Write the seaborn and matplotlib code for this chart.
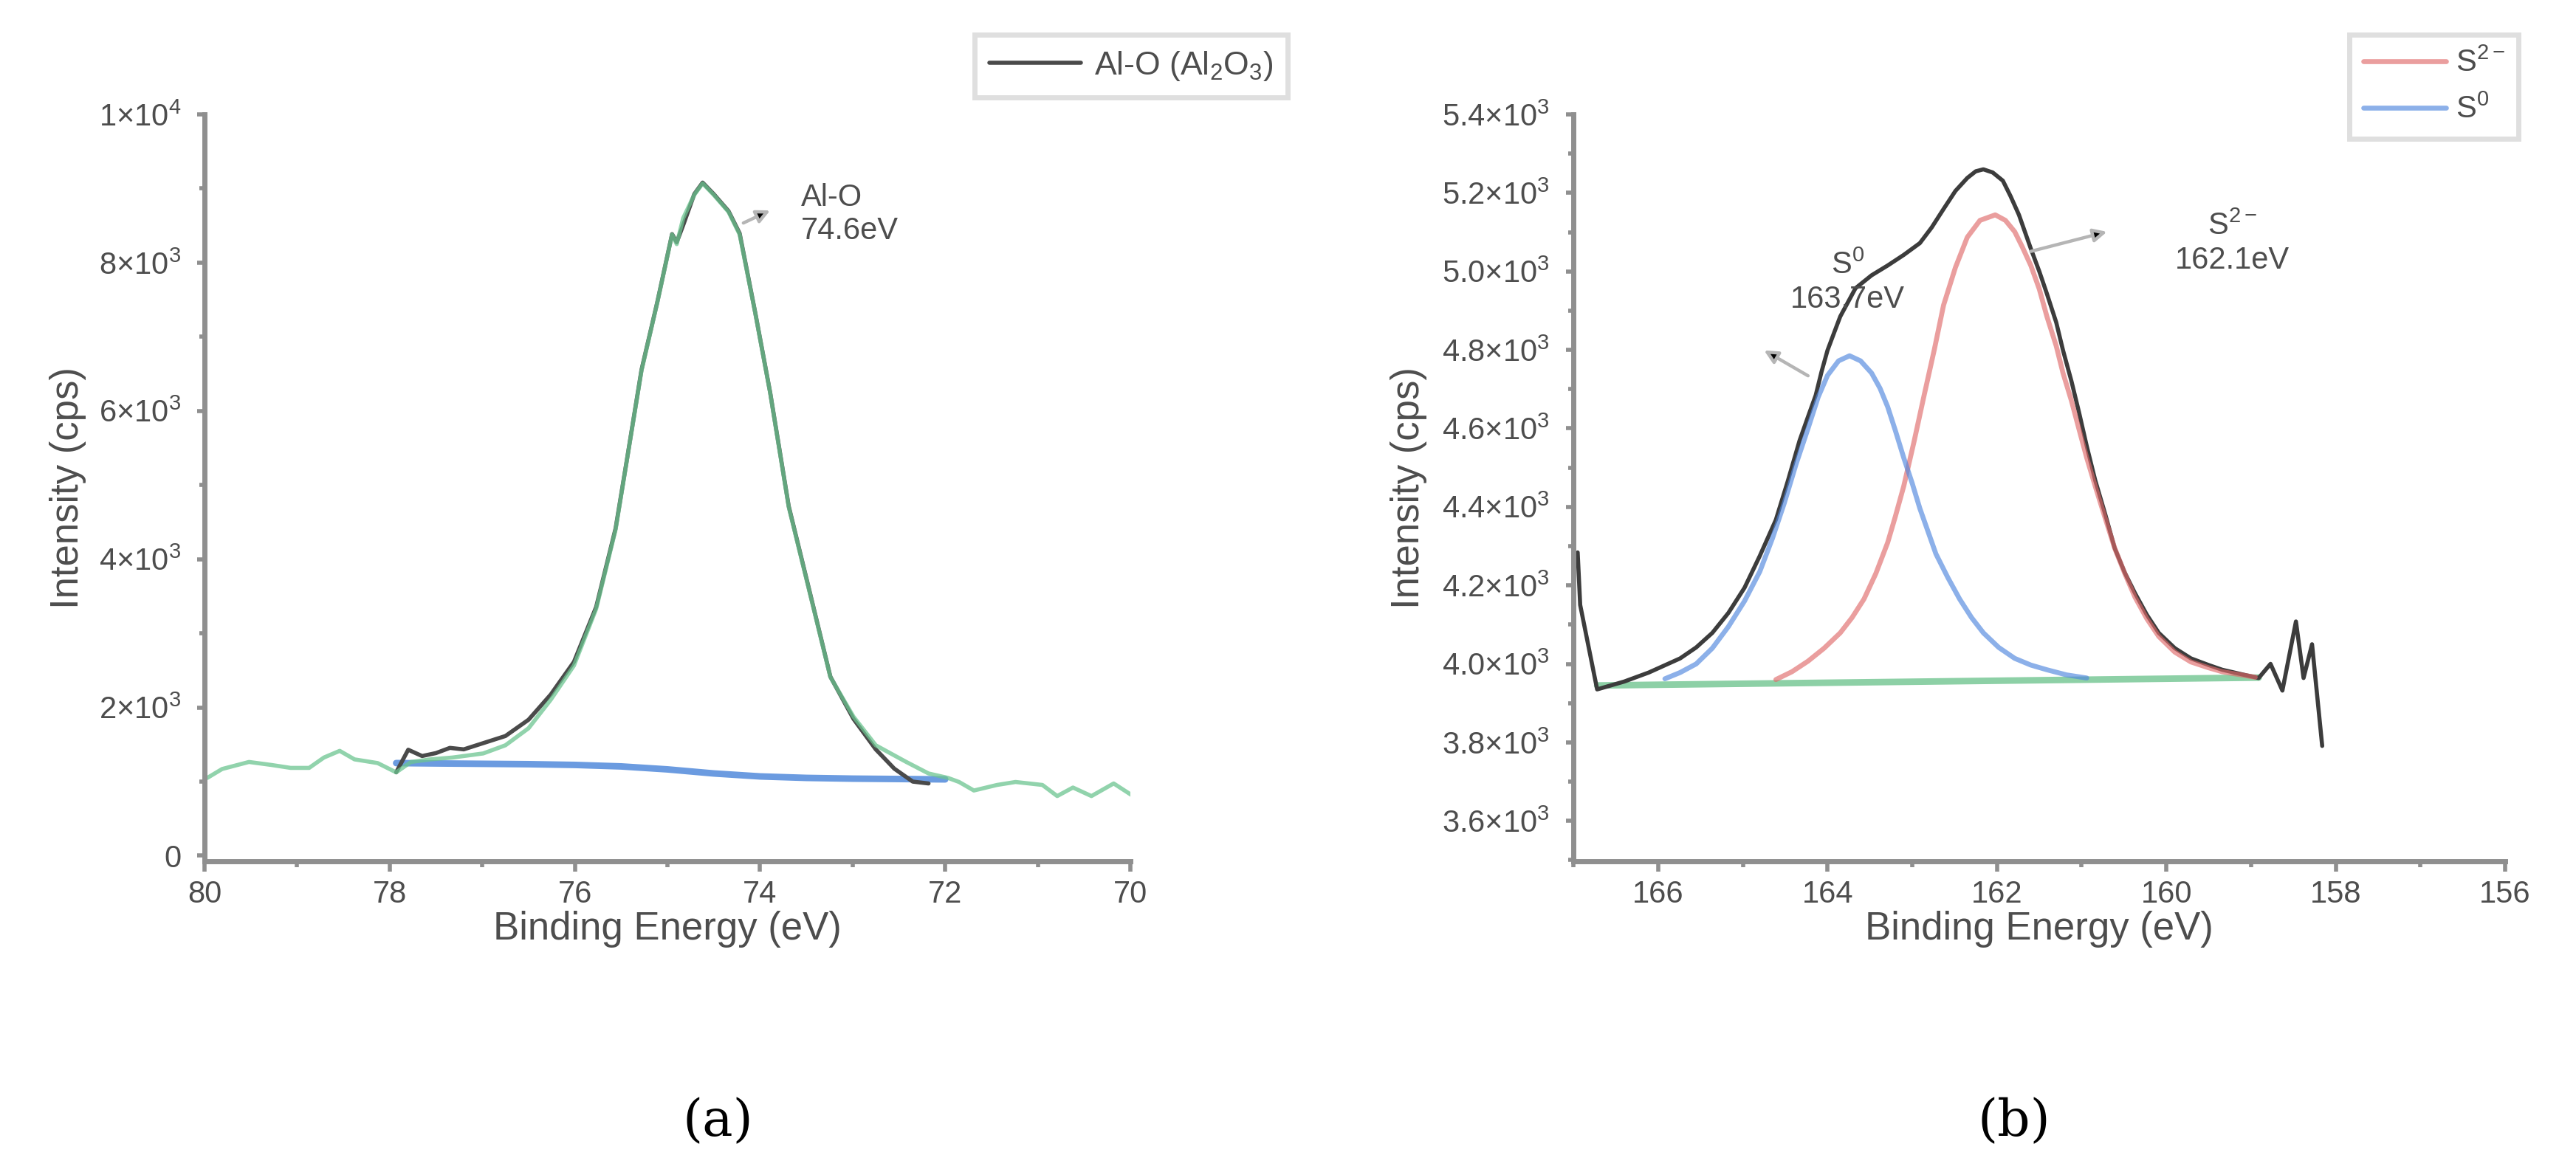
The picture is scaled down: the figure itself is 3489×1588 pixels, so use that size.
import matplotlib
matplotlib.use('Agg')
import matplotlib.pyplot as plt
from matplotlib.ticker import MultipleLocator
import seaborn as sns

# --------------------
# (a) Al 2p region
# --------------------
al_raw_be = [79.97, 79.81, 79.52, 79.28, 79.07, 78.87, 78.71, 78.54, 78.38, 78.13,
             77.93, 77.77, 77.56, 77.32, 76.99, 76.75, 76.50, 76.26, 76.01, 75.77,
             75.56, 75.44, 75.28, 75.11, 74.95, 74.90, 74.83, 74.71, 74.62, 74.50,
             74.34, 74.22, 74.05, 73.89, 73.69, 73.48, 73.24, 72.99, 72.75, 72.42,
             72.18, 71.97, 71.85, 71.69, 71.44, 71.24, 70.95, 70.79, 70.62, 70.42,
             70.18, 69.97]
al_raw_cps = [1050, 1170, 1265, 1225, 1185, 1185, 1325, 1415, 1300, 1250,
              1125, 1265, 1300, 1325, 1380, 1490, 1720, 2105, 2565, 3330,
              4400, 5320, 6545, 7460, 8380, 8250, 8600, 8915, 9070, 8915,
              8685, 8380, 7310, 6240, 4705, 3635, 2410, 1875, 1490, 1265,
              1110, 1050, 995, 880, 955, 995, 955, 805, 920, 805,
              975, 805]

al_fit_be = [77.93, 77.80, 77.65, 77.50, 77.35, 77.20, 77.00, 76.75, 76.50, 76.26,
             76.01, 75.77, 75.56, 75.44, 75.28, 75.11, 74.95, 74.90, 74.83, 74.71,
             74.62, 74.50, 74.34, 74.22, 74.05, 73.89, 73.69, 73.48, 73.24, 72.99,
             72.75, 72.55, 72.35, 72.18]
al_fit_cps = [1125, 1430, 1345, 1385, 1455, 1435, 1515, 1615, 1835, 2175,
              2615, 3355, 4415, 5325, 6555, 7465, 8385, 8275, 8505, 8925,
              9080, 8925, 8695, 8395, 7315, 6245, 4715, 3645, 2415, 1845,
              1435, 1175, 1000, 975]

al_bg_be = [77.93, 77.50, 77.00, 76.50, 76.00, 75.50, 75.00, 74.50, 74.00, 73.50,
            73.00, 72.50, 72.00]
al_bg_cps = [1250, 1245, 1240, 1235, 1225, 1205, 1165, 1110, 1070, 1050,
             1040, 1035, 1030]

al_xticks = [80, 78, 76, 74, 72, 70]
al_yticks = [0, 2000, 4000, 6000, 8000, 10000]
al_yticklabels = ['0', r'$2{\times}10^{3}$', r'$4{\times}10^{3}$', r'$6{\times}10^{3}$',
                  r'$8{\times}10^{3}$', r'$1{\times}10^{4}$']

# --------------------
# (b) S 2p region
# --------------------
s_env_be = [166.95, 166.92, 166.72, 166.40, 166.11, 165.74, 165.55, 165.36, 165.17, 164.98,
            164.80, 164.61, 164.47, 164.33, 164.23, 164.14, 164.07, 164.00, 163.92, 163.85,
            163.67, 163.48, 163.29, 163.10, 162.91, 162.77, 162.63, 162.49, 162.35, 162.25,
            162.16, 162.05, 161.93, 161.84, 161.74, 161.60, 161.50, 161.41, 161.30, 161.22,
            161.12, 161.03, 160.94, 160.84, 160.72, 160.61, 160.49, 160.37, 160.23, 160.09,
            159.90, 159.71, 159.50, 159.34, 159.10, 158.91, 158.77, 158.63, 158.47, 158.38,
            158.28, 158.16]
s_env_cps = [4284, 4150, 3935, 3955, 3978, 4014, 4042, 4079, 4130, 4194,
             4275, 4367, 4465, 4569, 4630, 4684, 4745, 4799, 4845, 4885,
             4957, 4990, 5015, 5042, 5072, 5112, 5159, 5205, 5238, 5255,
             5260, 5252, 5231, 5192, 5144, 5058, 5000, 4943, 4870, 4799,
             4720, 4640, 4555, 4468, 4380, 4295, 4232, 4180, 4125, 4079,
             4040, 4014, 3997, 3985, 3973, 3964, 4000, 3932, 4108, 3964,
             4050, 3791]

s2_be = [164.61, 164.42, 164.23, 164.04, 163.85, 163.71, 163.57, 163.43, 163.29, 163.20,
         163.10, 162.98, 162.86, 162.74, 162.63, 162.49, 162.35, 162.20, 162.02, 161.90,
         161.79, 161.70, 161.60, 161.50, 161.41, 161.30, 161.22, 161.12, 161.03, 160.94,
         160.84, 160.72, 160.61, 160.49, 160.37, 160.23, 160.09, 159.90, 159.71, 159.50,
         159.34, 158.95]
s2_cps = [3960, 3980, 4007, 4040, 4079, 4118, 4165, 4230, 4309, 4375,
          4453, 4565, 4684, 4800, 4914, 5010, 5087, 5130, 5144, 5130,
          5101, 5062, 5015, 4955, 4885, 4810, 4741, 4670, 4597, 4525,
          4453, 4370, 4295, 4230, 4170, 4115, 4070, 4030, 4005, 3990,
          3980, 3966]

s0_be = [165.92, 165.74, 165.55, 165.36, 165.17, 164.98, 164.80, 164.65, 164.51, 164.37,
         164.23, 164.11, 164.00, 163.87, 163.74, 163.61, 163.48, 163.38, 163.29, 163.20,
         163.10, 163.00, 162.91, 162.81, 162.72, 162.58, 162.44, 162.30, 162.16, 161.98,
         161.79, 161.60, 161.41, 161.18, 160.94]
s0_cps = [3962, 3978, 4000, 4040, 4095, 4160, 4235, 4320, 4410, 4510,
          4600, 4680, 4735, 4772, 4785, 4772, 4741, 4702, 4655, 4595,
          4525, 4460, 4396, 4335, 4280, 4220, 4165, 4118, 4079, 4042,
          4014, 3997, 3985, 3972, 3964]

s_bg_be = [166.72, 158.91]
s_bg_cps = [3945, 3965]

s_xticks = [166, 164, 162, 160, 158, 156]
s_yticks = [3600, 3800, 4000, 4200, 4400, 4600, 4800, 5000, 5200, 5400]
s_yticklabels = [r'$%s{\times}10^{3}$' % v for v in
                 ['3.6', '3.8', '4.0', '4.2', '4.4', '4.6', '4.8', '5.0', '5.2', '5.4']]

# --------------------
# style
# --------------------
sns.set_theme(style='white')
plt.rcParams['font.family'] = ['Liberation Sans', 'DejaVu Sans']
plt.rcParams['mathtext.fontset'] = 'custom'
plt.rcParams['mathtext.rm'] = 'Liberation Sans'
plt.rcParams['mathtext.it'] = 'Liberation Sans:italic'
plt.rcParams['mathtext.bf'] = 'Liberation Sans:bold'
plt.rcParams['mathtext.default'] = 'regular'

AX_GRAY = '#8f8f8f'
TXT = '#4d4d4d'
W, H, DPI = 3489, 1588, 200

fig = plt.figure(figsize=(W / DPI, H / DPI), dpi=DPI)
ax_a = fig.add_axes([0.0794, 0.2651, 0.3594, 0.6373])
ax_b = fig.add_axes([0.6108, 0.2651, 0.3617, 0.6373])


def style_axis(ax, ylabel_x):
    sns.despine(ax=ax)
    for s in ['left', 'bottom']:
        ax.spines[s].set_color(AX_GRAY)
        ax.spines[s].set_linewidth(2.5)
    ax.tick_params(axis='x', which='major', bottom=True, direction='out', length=5, width=2,
                   color=AX_GRAY, labelsize=15, labelcolor=TXT, pad=4)
    ax.tick_params(axis='x', which='minor', bottom=True, direction='out', length=2.8, width=2,
                   color=AX_GRAY)
    ax.tick_params(axis='y', which='major', left=True, direction='out', length=3.5, width=2,
                   color=AX_GRAY, labelsize=15, labelcolor=TXT, pad=8)
    ax.tick_params(axis='y', which='minor', left=True, direction='out', length=2.5, width=2,
                   color=AX_GRAY)
    ax.xaxis.set_minor_locator(MultipleLocator(1))
    ax.set_xlabel('Binding Energy (eV)', fontsize=19, color=TXT)
    ax.set_ylabel('Intensity (cps)', fontsize=19, color=TXT, va='center')
    ax.xaxis.set_label_coords(0.5, -0.066)
    ax.yaxis.set_label_coords(ylabel_x, 0.5)


# (a)
sns.lineplot(x=al_bg_be, y=al_bg_cps, ax=ax_a, color='#6b9be0', lw=3.2, sort=False, estimator=None)
sns.lineplot(x=al_fit_be, y=al_fit_cps, ax=ax_a, color='#4a4a4a', lw=2.0, sort=False, estimator=None,
             label=r'Al-O (Al$_2$O$_3$)')
sns.lineplot(x=al_raw_be, y=al_raw_cps, ax=ax_a, color='#6cc590', lw=2.0, alpha=0.75, sort=False,
             estimator=None)
ax_a.set_xlim(80, 70)
ax_a.set_ylim(-75, 10000)
ax_a.set_xticks(al_xticks)
ax_a.set_yticks(al_yticks, al_yticklabels)
ax_a.yaxis.set_minor_locator(MultipleLocator(1000))
style_axis(ax_a, -0.1475)
ax_a.legend(loc='upper left', bbox_to_anchor=(1320 / W, 1 - 47 / H), bbox_transform=fig.transFigure,
            fontsize=16, frameon=True, fancybox=False, edgecolor='#d8d8d8', handlelength=2.8,
            handletextpad=0.4, borderpad=0.45, borderaxespad=0, labelcolor=TXT)
ax_a.get_legend().get_frame().set_linewidth(2.5)

ax_a.text(73.56, 9070, 'Al-O\n74.6eV', fontsize=15, color=TXT, ha='left', va='top', linespacing=1.15)
ax_a.annotate('', xy=(73.89, 8705), xytext=(74.18, 8535),
              arrowprops=dict(arrowstyle='-|>,head_length=0.45,head_width=0.22', fc='black',
                              ec='#b5b5b5', lw=1.6, shrinkA=0, shrinkB=0))

# (b)
sns.lineplot(x=s_bg_be, y=s_bg_cps, ax=ax_b, color='#8dd0a6', lw=3.2, sort=False, estimator=None)
sns.lineplot(x=s_env_be, y=s_env_cps, ax=ax_b, color='#3c3c3c', lw=2.0, sort=False, estimator=None)
sns.lineplot(x=s2_be, y=s2_cps, ax=ax_b, color='#e06a6a', lw=2.4, alpha=0.65, sort=False,
             estimator=None, label=r'S$^{2-}$')
sns.lineplot(x=s0_be, y=s0_cps, ax=ax_b, color='#4f86de', lw=2.4, alpha=0.65, sort=False,
             estimator=None, label=r'S$^{0}$')
ax_b.set_xlim(167, 156)
ax_b.set_ylim(3497, 5400)
ax_b.set_xticks(s_xticks)
ax_b.set_yticks(s_yticks, s_yticklabels)
ax_b.yaxis.set_minor_locator(MultipleLocator(100))
style_axis(ax_b, -0.1767)
ax_b.legend(loc='upper left', bbox_to_anchor=(3182 / W, 1 - 47 / H), bbox_transform=fig.transFigure,
            fontsize=15, frameon=True, fancybox=False, edgecolor='#d8d8d8', handlelength=2.7,
            handletextpad=0.3, borderpad=0.45, labelspacing=0.55, borderaxespad=0, labelcolor=TXT)
ax_b.get_legend().get_frame().set_linewidth(2.5)

ax_b.text(163.76, 4972, 'S$^{0}$\n163.7eV', fontsize=15, color=TXT, ha='center', va='center',
          multialignment='center', linespacing=1.2)
ax_b.text(159.22, 5072, 'S$^{2-}$\n162.1eV', fontsize=15, color=TXT, ha='center', va='center',
          multialignment='center', linespacing=1.2)
ax_b.annotate('', xy=(164.75, 4799), xytext=(164.23, 4734),
              arrowprops=dict(arrowstyle='-|>,head_length=0.45,head_width=0.22', fc='black',
                              ec='#b5b5b5', lw=1.6, shrinkA=0, shrinkB=0))
ax_b.annotate('', xy=(160.70, 5101), xytext=(161.60, 5051),
              arrowprops=dict(arrowstyle='-|>,head_length=0.45,head_width=0.22', fc='black',
                              ec='#b5b5b5', lw=1.6, shrinkA=0, shrinkB=0))

# panel captions
fig.text(972 / W, 1 - 1520 / H, '(a)', fontsize=25, family='DejaVu Serif', ha='center', va='center',
         color='black')
fig.text(2728 / W, 1 - 1520 / H, '(b)', fontsize=25, family='DejaVu Serif', ha='center', va='center',
         color='black')

fig.savefig('out.png', dpi=DPI)
